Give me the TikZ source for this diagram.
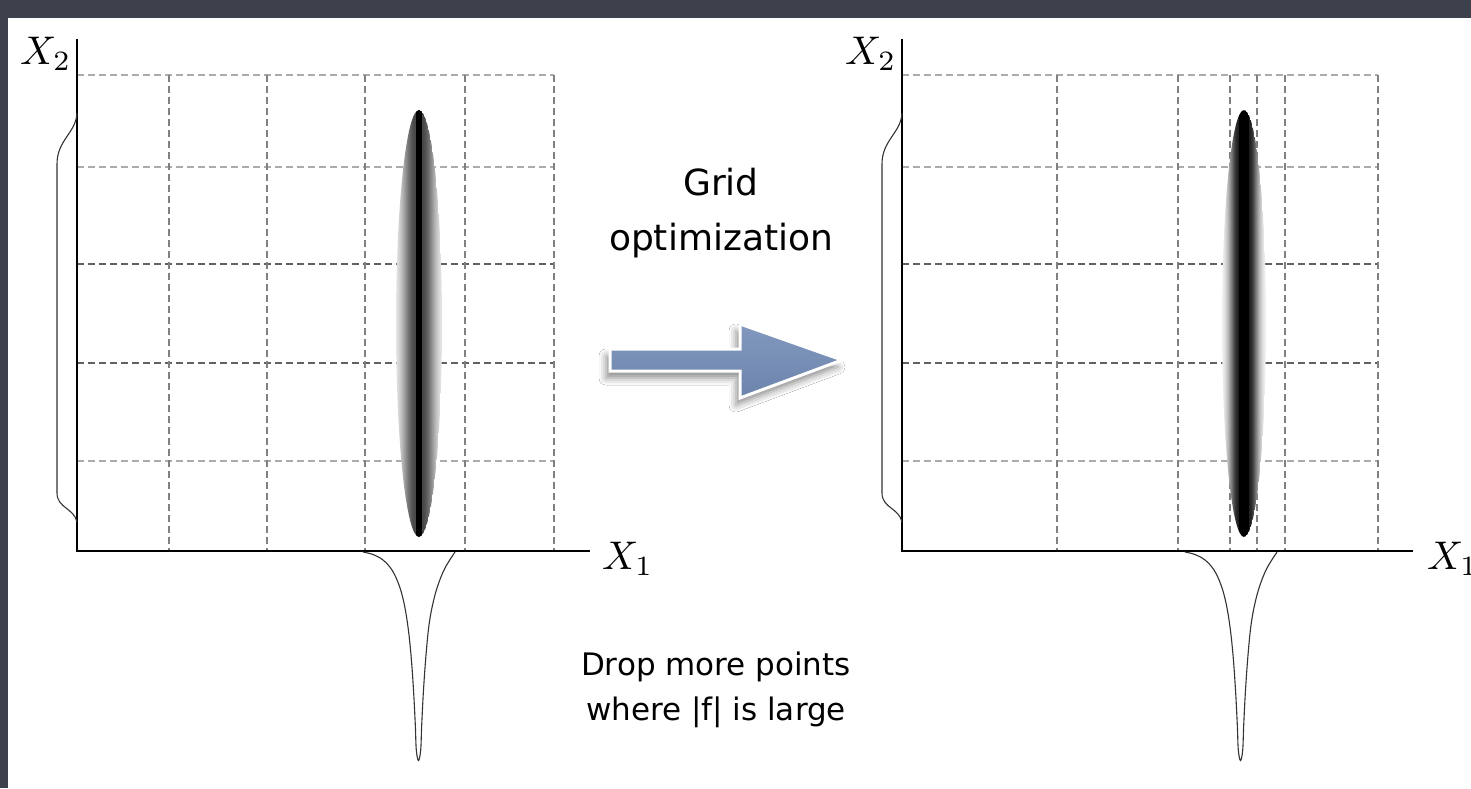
\documentclass[tikz,border=0pt]{standalone}
\usepackage{fontspec}
\newfontfamily\comic{DejaVu Sans}
\usetikzlibrary{shadows.blur}
\definecolor{bgdark}{HTML}{3C414C}
\definecolor{arrowtop}{HTML}{8298BE}
\definecolor{arrowbot}{HTML}{6C84AC}
\newcommand{\biglbl}[1]{\scalebox{4}{$#1$}}
\begin{document}
\begin{tikzpicture}[x=1pt,y=-1pt,
  gridlight/.style={draw=black!33, line width=1.4pt, dash pattern=on 7pt off 4pt},
  griddark/.style={draw=black!62, line width=1.4pt, dash pattern=on 7pt off 4pt},
  gridvert/.style={draw=black!50, line width=1.3pt, dash pattern=on 7pt off 4pt},
  axisline/.style={draw=black, line width=2.4pt},
  marg/.style={draw=black!80, line width=1.1pt},
  lbl/.style={inner sep=0pt},
  toptext/.style={inner sep=0pt, font=\comic\fontsize{36}{40}\selectfont},
  bottext/.style={inner sep=0pt, font=\comic\fontsize{31}{36}\selectfont}
]
\useasboundingbox (0,0) rectangle (1471,788);
\fill[bgdark] (0,0) rectangle (1471,788);
\fill[white] (8,18) rectangle (1471,788);

% ---------- left plot ----------
\foreach \yy in {75,167,461} \draw[gridlight] (77,\yy) -- (554,\yy);
\foreach \yy in {264,363} \draw[griddark] (77,\yy) -- (554,\yy);
\foreach \xx in {169,267,365,465,554} \draw[gridvert] (\xx,75) -- (\xx,551);
\begin{scope}
  \clip (419,323.5) ellipse [x radius=23pt, y radius=213.5pt];
  \foreach \i in {0,...,45} {
    \pgfmathsetmacro{\dd}{abs(\i+0.5-23)}
    \pgfmathsetmacro{\vv}{\dd<3 ? 100 : 72*exp(-((\dd-3)/14)^2)}
    \fill[black!\vv] (396+\i,100) rectangle (397.3+\i,547);
  }
\end{scope}
\coordinate (oL) at (77,551);
\coordinate (yL) at (77,39);
\coordinate (xL) at (590,551);
\draw[axisline] (yL) -- (oL) -- (xL);
\draw[marg] (77,113) .. controls (76,133) and (57,140) .. (57,164) -- (57,493) .. controls (57,508) and (74,508) .. (77,522);
\draw[marg] plot[smooth, tension=0.6] coordinates {(363,552) (373,554.5) (383,560) (392,570) (399,585) (404,603) (408,627) (411,655) (413.5,690) (415.3,725) (416.3,750) (418.5,760.5) (420.7,750) (421.7,725) (423.5,690) (426,655) (429,625) (433,603) (438,585) (445,568) (455,552)};
\node[lbl, anchor=base west] (x2L) at (20,64) {\biglbl{X_2}};
\node[lbl, anchor=base west] (x1L) at (602,569) {\biglbl{X_1}};

% ---------- right plot ----------
\foreach \yy in {75,167,461} \draw[gridlight] (902,\yy) -- (1378,\yy);
\foreach \yy in {264,363} \draw[griddark] (902,\yy) -- (1378,\yy);
\foreach \xx in {1057,1178,1230,1257,1285,1378} \draw[gridvert] (\xx,75) -- (\xx,551);
\begin{scope}
  \clip (1244,323.5) ellipse [x radius=22pt, y radius=213.5pt];
  \foreach \i in {0,...,43} {
    \pgfmathsetmacro{\dd}{abs(\i+0.5-22)}
    \pgfmathsetmacro{\vv}{\dd<5 ? 100 : 88*exp(-((\dd-5)/10)^2)}
    \fill[black!\vv] (1222+\i,100) rectangle (1223.3+\i,547);
  }
\end{scope}
\coordinate (oR) at (902,551);
\coordinate (yR) at (902,39);
\coordinate (xR) at (1413,551);
\draw[axisline] (yR) -- (oR) -- (xR);
\begin{scope}[xshift=825pt]
\draw[marg] (77,113) .. controls (76,133) and (57,140) .. (57,164) -- (57,493) .. controls (57,508) and (74,508) .. (77,522);
\end{scope}
\begin{scope}[xshift=822pt]
\draw[marg] plot[smooth, tension=0.6] coordinates {(363,552) (373,554.5) (383,560) (392,570) (399,585) (404,603) (408,627) (411,655) (413.5,690) (415.3,725) (416.3,750) (418.5,760.5) (420.7,750) (421.7,725) (423.5,690) (426,655) (429,625) (433,603) (438,585) (445,568) (455,552)};
\end{scope}
\node[lbl, anchor=base west] (x2R) at (845,64) {\biglbl{X_2}};
\node[lbl, anchor=base west] (x1R) at (1427,569) {\biglbl{X_1}};

% ---------- middle ----------
\path[blur shadow={shadow xshift=-4pt, shadow yshift=-7pt, shadow blur radius=7pt, shadow opacity=45},
      top color=arrowtop, bottom color=arrowbot, draw=white, line width=3pt, line join=miter]
  (610,349) -- (740,349) -- (740,324) -- (842,360) -- (740,398) -- (740,371) -- (610,371) -- cycle;
\node[toptext, anchor=base] (grid) at (721,195) {Grid};
\node[toptext, anchor=base] (opt) at (721,250) {optimization};
\node[bottext, anchor=base] (drop) at (716,675) {Drop more points};
\node[bottext, anchor=base] (where) at (716,720) {where |f| is large};
\end{tikzpicture}
\end{document}
